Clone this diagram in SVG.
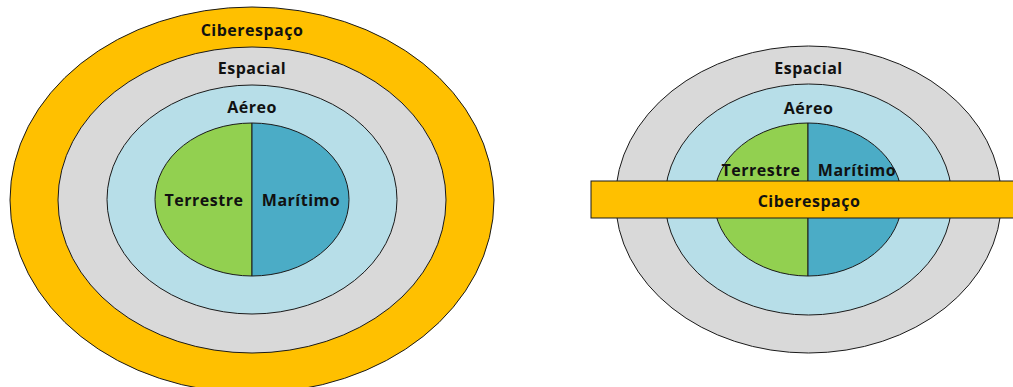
<svg xmlns="http://www.w3.org/2000/svg" width="1013" height="387" viewBox="0 0 1013 387">
<style>
.o{fill:#FFC000;stroke:#1a1a1a;stroke-width:1}
.g{fill:#D9D9D9;stroke:#1a1a1a;stroke-width:1}
.a{fill:#B7DEE8;stroke:#1a1a1a;stroke-width:1}
.t{fill:#92D050;stroke:#1a1a1a;stroke-width:1}
.m{fill:#4BACC6;stroke:#1a1a1a;stroke-width:1}
.d{stroke:#1a1a1a;stroke-width:1.2}
text{font-family:"Open Sans","Liberation Sans",sans-serif;font-weight:bold;font-size:16px;fill:#111;text-anchor:middle;dominant-baseline:central;letter-spacing:0.5px}
</style>
<rect width="1013" height="387" fill="#fff"/>
<g id="left">
<g id="l-ciber"><ellipse class="o" cx="252" cy="200" rx="242" ry="193"/><text x="252" y="30">Ciberespaço</text></g>
<g id="l-espacial"><ellipse class="g" cx="252" cy="200" rx="194" ry="153"/><text x="252" y="68">Espacial</text></g>
<g id="l-aereo"><ellipse class="a" cx="252" cy="199.5" rx="145" ry="114.5"/><text x="252" y="107">Aéreo</text></g>
<g id="l-terrestre"><path class="t" d="M252,123 A97,76.5 0 0 0 252,276 Z"/><text x="204" y="200">Terrestre</text></g>
<g id="l-maritimo"><path class="m" d="M252,123 A97,76.5 0 0 1 252,276 Z"/><text x="301" y="200">Marítimo</text></g>
</g>
<g id="right">
<g id="r-espacial"><ellipse class="g" cx="808.5" cy="199.5" rx="193" ry="153.5"/><text x="808.5" y="68">Espacial</text></g>
<g id="r-aereo"><ellipse class="a" cx="808.5" cy="199.5" rx="143.5" ry="115.5"/><text x="808.5" y="108">Aéreo</text></g>
<g id="r-terrestre"><path class="t" d="M808,123 A94,76.5 0 0 0 808,276 Z"/><text x="761" y="170">Terrestre</text></g>
<g id="r-maritimo"><path class="m" d="M808,123 A94,76.5 0 0 1 808,276 Z"/><text x="857" y="170">Marítimo</text></g>
<g id="r-ciber"><rect class="o" x="591" y="181" width="430" height="37"/><text x="809" y="201">Ciberespaço</text></g>
</g>
</svg>
